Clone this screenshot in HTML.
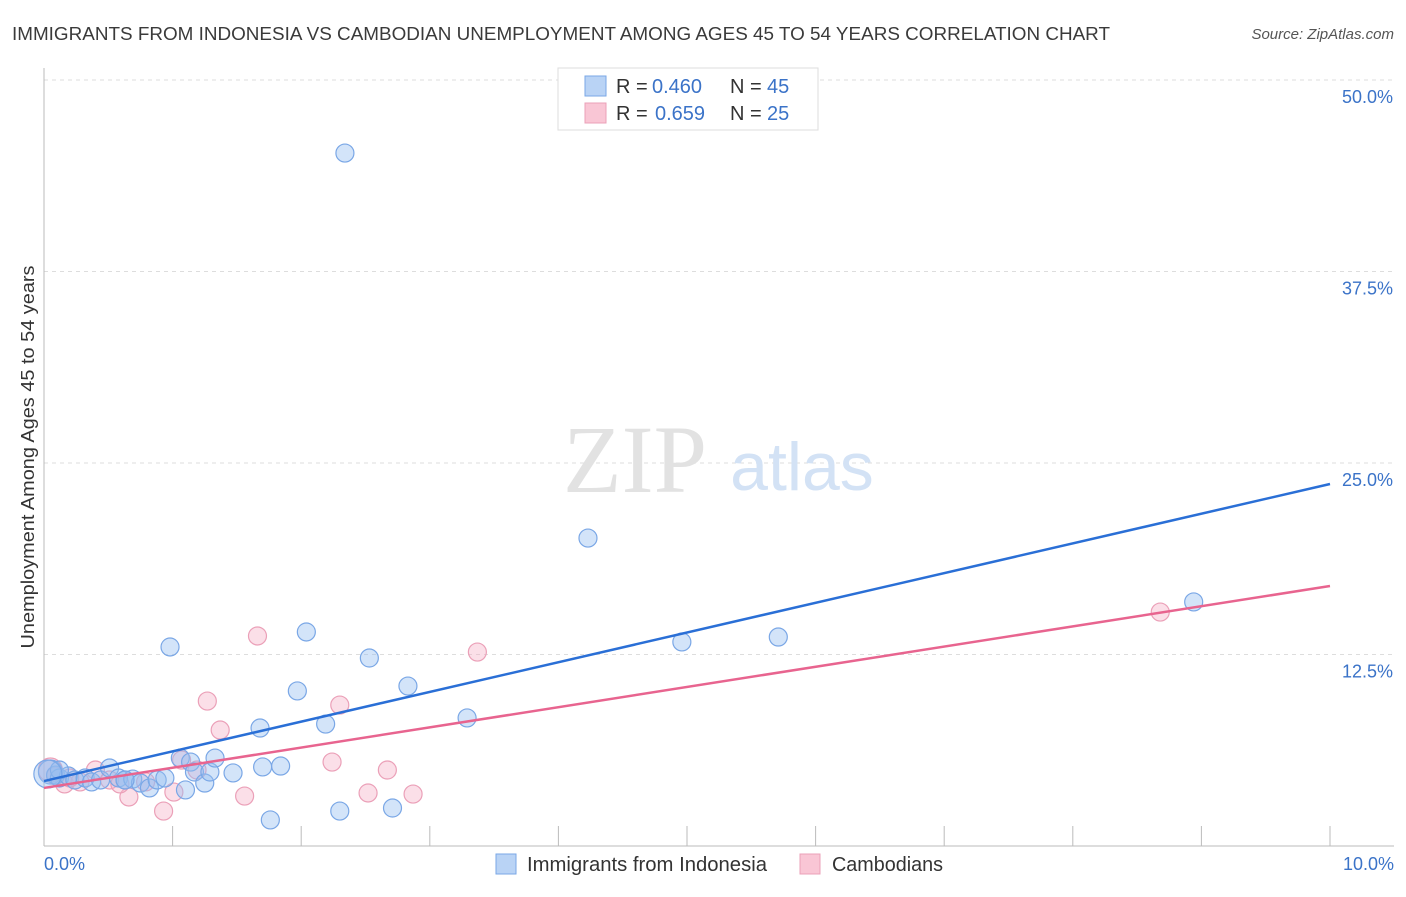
<!DOCTYPE html>
<html><head><meta charset="utf-8"><style>
body{margin:0;background:#fff;font-family:"Liberation Sans",sans-serif}
</style></head><body>
<svg width="1406" height="892" viewBox="0 0 1406 892" xmlns="http://www.w3.org/2000/svg">
<text x="12" y="40" font-size="18" fill="#3a3a3a" textLength="1098" lengthAdjust="spacingAndGlyphs">IMMIGRANTS FROM INDONESIA VS CAMBODIAN UNEMPLOYMENT AMONG AGES 45 TO 54 YEARS CORRELATION CHART</text>
<text x="1394" y="39" font-size="15" fill="#555" font-style="italic" text-anchor="end">Source: ZipAtlas.com</text>
<g id="grid"></g>
<text x="635" y="492" font-size="96" font-family="Liberation Serif,serif" fill="#e2e2e2" text-anchor="middle">ZIP</text>
<text x="802" y="490" font-size="68" fill="#d3e2f5" text-anchor="middle">atlas</text>
<line x1="44" y1="68" x2="44" y2="846" stroke="#bbb"/>
<line x1="44" y1="846" x2="1394" y2="846" stroke="#bbb"/>
<g id="marks"></g>
<text transform="translate(34,457) rotate(-90)" font-size="18" fill="#333" text-anchor="middle" textLength="383" lengthAdjust="spacingAndGlyphs">Unemployment Among Ages 45 to 54 years</text>
<text x="44" y="870" font-size="18" fill="#3b73c8">0.0%</text>
<text x="1394" y="870" font-size="18" fill="#3b73c8" text-anchor="end">10.0%</text>
<g>
<rect x="558" y="68" width="260" height="62" fill="#fff" stroke="#ddd"/>
<rect x="585" y="76" width="21" height="20" fill="#b9d3f5" stroke="#7aa7e6"/>
<rect x="585" y="103" width="21" height="20" fill="#f9c6d5" stroke="#eba0b8"/>
<text x="616" y="93" font-size="20" fill="#333">R =</text>
<text x="652" y="93" font-size="20" fill="#3b73c8">0.460</text>
<text x="730" y="93" font-size="20" fill="#333">N =</text>
<text x="767" y="93" font-size="20" fill="#3b73c8">45</text>
<text x="616" y="120" font-size="20" fill="#333">R =</text>
<text x="655" y="120" font-size="20" fill="#3b73c8">0.659</text>
<text x="730" y="120" font-size="20" fill="#333">N =</text>
<text x="767" y="120" font-size="20" fill="#3b73c8">25</text>
</g>
<g>
<rect x="496" y="854" width="20" height="20" fill="#b9d3f5" stroke="#7aa7e6"/>
<text x="527" y="871" font-size="20" fill="#333" textLength="240" lengthAdjust="spacingAndGlyphs">Immigrants from Indonesia</text>
<rect x="800" y="854" width="20" height="20" fill="#f9c6d5" stroke="#eba0b8"/>
<text x="832" y="871" font-size="20" fill="#333" textLength="111" lengthAdjust="spacingAndGlyphs">Cambodians</text>
</g>
</svg>
<script>
const yTicks=[12.5,25,37.5,50];
const yTickLabels=["12.5%","25.0%","37.5%","50.0%"];
const xTicks=[1,2,3,4,5,6,7,8,9,10];
const blueX=[0.05,0.09,0.12,0.19,0.24,0.32,0.37,0.44,0.51,0.58,0.63,0.69,0.75,0.82,0.88,0.94,0.98,1.06,1.10,1.14,1.17,1.25,1.29,1.33,1.47,1.68,1.70,1.76,1.84,1.97,2.04,2.19,2.30,2.34,2.53,2.71,2.83,3.29,4.23,4.96,5.71,8.94,0.12,0.63,0.03];
const blueY=[4.83,4.63,4.44,4.57,4.31,4.44,4.18,4.31,5.09,4.44,4.31,4.37,4.11,3.79,4.31,4.44,12.99,5.74,3.66,5.48,4.83,4.11,4.83,5.74,4.77,7.70,5.16,1.70,5.22,10.12,13.97,7.96,2.28,45.23,12.27,2.48,10.44,8.36,20.10,13.32,13.64,15.93,4.96,4.31,4.70];
const pinkX=[0.05,0.09,0.16,0.28,0.40,0.51,0.66,0.79,0.93,1.01,1.07,1.19,1.27,1.37,1.56,1.66,2.24,2.30,2.52,2.67,2.87,3.37,8.68,0.20,0.59];
const pinkY=[4.96,4.57,4.05,4.18,4.96,4.31,3.20,4.18,2.28,3.52,5.61,4.96,9.46,7.57,3.26,13.71,5.48,9.20,3.46,4.96,3.39,12.66,15.27,4.44,4.05];
const blueLine=[4.24,23.63];
const pinkLine=[3.79,16.97];
const NS="http://www.w3.org/2000/svg";
const sx=v=>44+v*128.6, sy=v=>846-v*15.32;
const grid=document.getElementById('grid'), marks=document.getElementById('marks');
function mk(tag,at,parent){const e=document.createElementNS(NS,tag);for(const k in at)e.setAttribute(k,at[k]);parent.appendChild(e);return e;}
yTicks.forEach((t,i)=>{
 const l=mk('line',{x1:44,x2:1394,y1:sy(t),y2:sy(t),stroke:'#ddd','stroke-dasharray':'4,4'},grid);
 
 
 const tx=mk('text',{x:1393,y:sy(t)+23,'font-size':18,fill:'#3b73c8','text-anchor':'end'},grid);
 tx.textContent=yTickLabels[i];
 
 
});
xTicks.forEach(t=>{
 const l=mk('line',{x1:sx(t),x2:sx(t),y1:826,y2:846,stroke:'#bbb'},grid);
 
 
});
function dots(xs,ys,fill,stroke,name){
 xs.forEach((x,i)=>{
  const c=mk('circle',{cx:sx(x),cy:sy(ys[i]),r:(i===xs.length-1&&name==='blue-point')?14:(i===0?12:9),fill:fill,stroke:stroke,'stroke-width':1.2},marks);
  
  
 });
}
dots(pinkX,pinkY,'rgba(245,175,198,0.4)','#eba0b8','pink-point');
dots(blueX,blueY,'rgba(150,190,240,0.42)','#7aa7e6','blue-point');
const bl=mk('line',{x1:sx(0),y1:sy(blueLine[0]),x2:sx(10),y2:sy(blueLine[1]),stroke:'#2a6fd6','stroke-width':2.5},marks);


const pl=mk('line',{x1:sx(0),y1:sy(pinkLine[0]),x2:sx(10),y2:sy(pinkLine[1]),stroke:'#e8648f','stroke-width':2.5},marks);


</script>
</body></html>
